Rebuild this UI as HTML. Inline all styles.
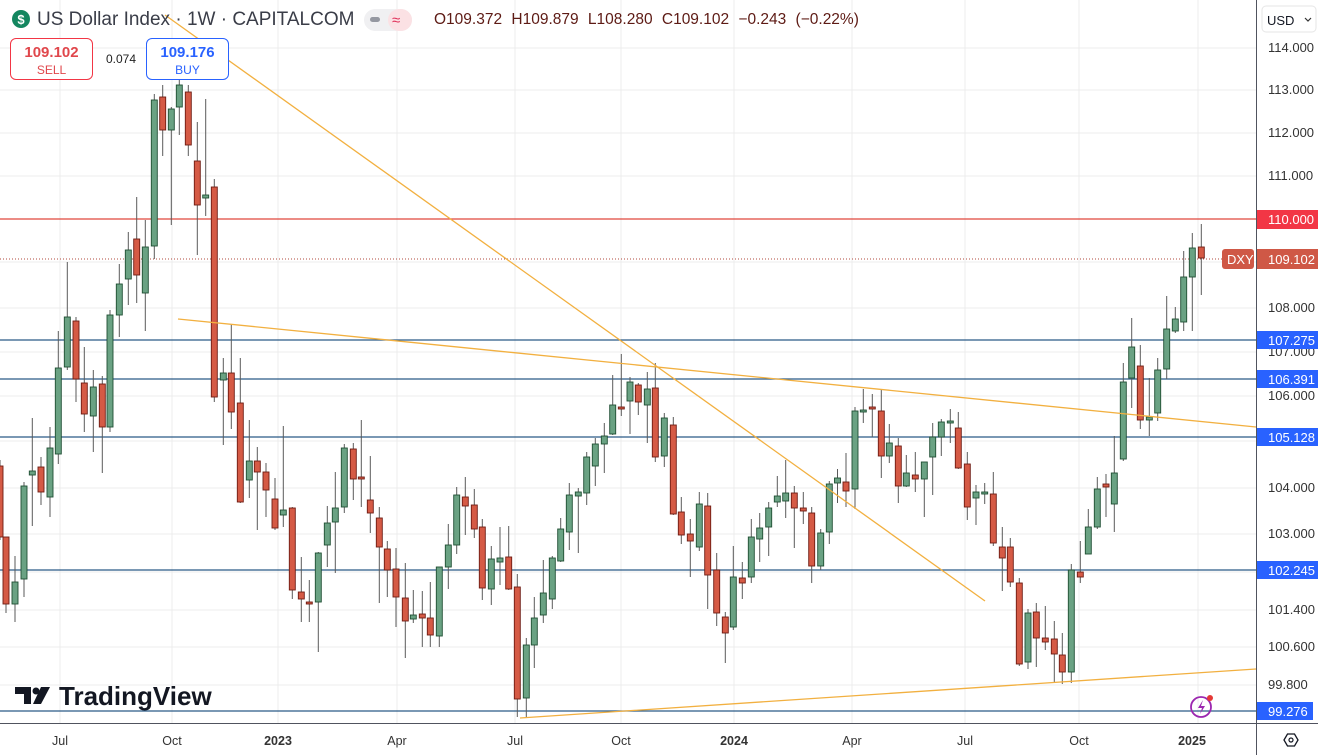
<!DOCTYPE html>
<html><head><meta charset="utf-8">
<style>
html,body{margin:0;padding:0;background:#fff;}
body{width:1318px;height:755px;overflow:hidden;position:relative;font-family:"Liberation Sans",sans-serif;}
svg{position:absolute;left:0;top:0;}
.box{position:absolute;top:38px;width:83px;height:42px;border-radius:6px;background:#fff;text-align:center;box-sizing:border-box;}
</style></head><body>
<svg id="c" width="1318" height="755" xmlns="http://www.w3.org/2000/svg" font-family="Liberation Sans, sans-serif">
<g stroke="#ececec" stroke-width="1">
<line x1="60" y1="0" x2="60" y2="723"/><line x1="172" y1="0" x2="172" y2="723"/><line x1="278" y1="0" x2="278" y2="723"/><line x1="397" y1="0" x2="397" y2="723"/><line x1="515" y1="0" x2="515" y2="723"/><line x1="621" y1="0" x2="621" y2="723"/><line x1="734" y1="0" x2="734" y2="723"/><line x1="852" y1="0" x2="852" y2="723"/><line x1="965" y1="0" x2="965" y2="723"/><line x1="1079" y1="0" x2="1079" y2="723"/><line x1="1198" y1="0" x2="1198" y2="723"/>
<line x1="0" y1="48" x2="1256" y2="48"/><line x1="0" y1="90" x2="1256" y2="90"/><line x1="0" y1="133" x2="1256" y2="133"/><line x1="0" y1="176" x2="1256" y2="176"/><line x1="0" y1="262" x2="1256" y2="262"/><line x1="0" y1="308" x2="1256" y2="308"/><line x1="0" y1="352" x2="1256" y2="352"/><line x1="0" y1="396" x2="1256" y2="396"/><line x1="0" y1="441" x2="1256" y2="441"/><line x1="0" y1="488" x2="1256" y2="488"/><line x1="0" y1="534" x2="1256" y2="534"/><line x1="0" y1="572" x2="1256" y2="572"/><line x1="0" y1="610" x2="1256" y2="610"/><line x1="0" y1="647" x2="1256" y2="647"/><line x1="0" y1="685" x2="1256" y2="685"/>
</g>
<g stroke="#2a5a86" stroke-width="1.2">
<line x1="0" y1="340" x2="1256" y2="340"/><line x1="0" y1="379" x2="1256" y2="379"/><line x1="0" y1="437" x2="1256" y2="437"/><line x1="0" y1="570" x2="1256" y2="570"/><line x1="0" y1="711" x2="1256" y2="711"/>
</g>
<line x1="0" y1="219" x2="1256" y2="219" stroke="#e0473c" stroke-width="1.2"/>
<line x1="0" y1="259" x2="1222" y2="259" stroke="#b04a3e" stroke-width="1" stroke-dasharray="1,2"/>
<g id="candles"></g>
<g stroke="#f2b040" stroke-width="1.3" fill="none">
<line x1="165" y1="15" x2="985" y2="601"/>
<line x1="178" y1="319" x2="1256" y2="427"/>
<line x1="520" y1="718" x2="1256" y2="669"/>
</g>
<rect x="1256" y="0" width="62" height="755" fill="#fff"/>
<line x1="1256.5" y1="0" x2="1256.5" y2="755" stroke="#50535e" stroke-width="1"/>
<rect x="0" y="723" width="1256" height="32" fill="#fff"/>
<line x1="0" y1="723.5" x2="1318" y2="723.5" stroke="#50535e" stroke-width="1"/>
<g font-size="13" fill="#333" >
<text x="1268" y="52">114.000</text><text x="1268" y="94">113.000</text><text x="1268" y="137">112.000</text><text x="1268" y="180">111.000</text><text x="1268" y="312">108.000</text><text x="1268" y="356">107.000</text><text x="1268" y="400">106.000</text><text x="1268" y="492">104.000</text><text x="1268" y="538">103.000</text><text x="1268" y="614">101.400</text><text x="1268" y="651">100.600</text><text x="1268" y="689">99.800</text>
</g>
<rect x="1257" y="210" width="61" height="19" fill="#f23645"/>
<rect x="1257" y="249" width="61" height="20" fill="#cf5846"/>
<rect x="1222" y="249" width="32" height="20" rx="3" fill="#cf5846"/>
<g fill="#2962ff"><rect x="1257" y="331" width="61" height="18"/><rect x="1257" y="370" width="61" height="18"/><rect x="1257" y="428" width="61" height="18"/><rect x="1257" y="561" width="61" height="18"/><rect x="1257" y="702" width="56" height="18"/></g>
<g font-size="13" fill="#fff">
<text x="1268" y="224">110.000</text><text x="1268" y="264">109.102</text><text x="1227" y="264">DXY</text>
<text x="1268" y="345">107.275</text><text x="1268" y="384">106.391</text><text x="1268" y="442">105.128</text><text x="1268" y="575">102.245</text><text x="1268" y="716">99.276</text>
</g>
<rect x="1262" y="6" width="54" height="26" rx="4" fill="#fff" stroke="#e6e6e6"/>
<text x="1267" y="25" font-size="13" fill="#131722">USD</text>
<path d="M1305 18 l3 3 l3 -3" stroke="#333" fill="none" stroke-width="1.2"/>
<g font-size="12.5" fill="#333" font-weight="bold" text-anchor="middle">
<text x="60" y="745" font-weight="normal">Jul</text><text x="172" y="745" font-weight="normal">Oct</text><text x="278" y="745">2023</text><text x="397" y="745" font-weight="normal">Apr</text><text x="515" y="745" font-weight="normal">Jul</text><text x="621" y="745" font-weight="normal">Oct</text><text x="734" y="745">2024</text><text x="852" y="745" font-weight="normal">Apr</text><text x="965" y="745" font-weight="normal">Jul</text><text x="1079" y="745" font-weight="normal">Oct</text><text x="1192" y="745">2025</text>
</g>
<path d="M1284 740 l3.5 -6 h7 l3.5 6 l-3.5 6 h-7z" fill="none" stroke="#131722" stroke-width="1.3"/>
<circle cx="1291" cy="740" r="2" fill="none" stroke="#131722" stroke-width="1.2"/>
<circle cx="21" cy="19" r="9" fill="#13865f"/>
<text x="21" y="24" font-size="13" font-weight="bold" fill="#fff" text-anchor="middle">$</text>
<text x="37" y="25" font-size="19" fill="#3a3d48">US Dollar Index · 1W · CAPITALCOM</text>
<rect x="364" y="9" width="48" height="22" rx="11" fill="#f0f0f2"/>
<rect x="370" y="17" width="10" height="5" rx="2.5" fill="#9598a1"/>
<rect x="388" y="9" width="24" height="22" rx="11" fill="#fbe1e4"/>
<text x="392" y="25" font-size="15" fill="#e0315a">≈</text>
<text x="434" y="24" font-size="15.5" fill="#5d1a14" word-spacing="5">O109.372 H109.879 L108.280 C109.102 −0.243 (−0.22%)</text>
<g fill="#131722">
<path d="M15 687 h16 v17 h-7 v-10 h-9z"/>
<circle cx="36" cy="691" r="3.5"/>
<path d="M41 687 h9 l-9 17 h-8z"/>
</g>
<text x="59" y="705" font-size="26" font-weight="bold" fill="#131722">TradingView</text>
<circle cx="1201" cy="707" r="10" fill="none" stroke="#9c27b0" stroke-width="1.8"/>
<path d="M1203 700 l-5 8 h4 l-2 6 l5 -8 h-4z" fill="#9c27b0"/>
<circle cx="1210" cy="698" r="3" fill="#e53935"/>
</svg>
<div class="box" style="left:10px;border:1px solid #f23645;color:#e0474c;">
<div style="font-size:15px;font-weight:bold;margin-top:5px;">109.102</div><div style="font-size:12px;margin-top:2px;">SELL</div></div>
<div style="position:absolute;left:106px;top:52px;font-size:12px;color:#222;">0.074</div>
<div class="box" style="left:146px;border:1px solid #2962ff;color:#2962ff;">
<div style="font-size:15px;font-weight:bold;margin-top:5px;">109.176</div><div style="font-size:12px;margin-top:2px;">BUY</div></div>
<script>
var d=[[0,'r',466,537,460,540],[6,'r',537,604,537,613],[15,'g',582,604,556,622],[24,'g',486,579,482,597],[32.3,'g',471,475,418,526],[41,'r',467,492,457,505],[50,'g',448,497,427,517],[58.3,'g',368,454,331,464],[67.3,'g',317,367,262,370],[76,'r',321,379,317,402],[84.3,'r',383,414,347,432],[93.3,'g',387,416,370,452],[102.3,'r',384,427,376,473],[110,'g',315,427,310,432],[119.3,'g',284,315,264,337],[128.3,'g',250,279,232,305],[136.7,'r',239,275,197,303],[145.3,'g',247,293,220,331],[154.3,'g',100,246,94,259],[162.7,'r',97,130,85,156],[171.3,'g',109,130,107,225],[179.3,'g',85,107,69,135],[188.3,'r',92,145,85,156],[197.3,'r',161,205,122,255],[205.7,'g',195,198,99,216],[214.3,'r',187,397,179,402],[223.3,'g',373,380,358,445],[231.3,'r',373,412,324,429],[240.3,'r',403,502,358,503],[249.3,'g',461,480,420,498],[257.3,'r',461,472,447,530],[266,'r',472,490,463,517],[275,'r',499,528,478,530],[283.3,'g',510,515,426,527],[292.3,'r',508,590,507,599],[301.3,'r',592,599,557,622],[309.3,'r',602,604,580,622],[318.3,'g',553,602,552,652],[327.3,'g',523,545,506,567],[335.3,'g',508,522,472,573],[344.3,'g',448,507,444,513],[353.3,'r',449,479,443,500],[361.3,'r',477,479,420,507],[370.3,'r',500,513,456,533],[379.3,'r',518,547,507,603],[387.3,'r',549,570,541,597],[396,'r',569,597,548,627],[405.3,'r',598,621,563,658],[413.3,'g',615,619,590,623],[422.3,'r',614,618,591,647],[430.3,'r',618,635,582,647],[439.3,'g',567,636,567,647],[448.3,'g',545,567,524,589],[456.7,'g',495,545,487,554],[465.3,'r',497,506,477,535],[474.3,'r',505,529,489,538],[482.3,'r',527,588,519,600],[491.3,'g',559,589,546,605],[500,'g',558,562,527,585],[508.7,'r',557,589,526,590],[517.3,'r',587,699,574,717],[526.3,'g',645,698,638,718],[534.3,'g',618,645,597,668],[543.3,'g',593,615,560,623],[552.3,'g',558,599,556,609],[560.7,'g',529,561,518,562],[569.3,'g',495,532,483,550],[578.3,'g',492,496,488,553],[586.7,'g',457,493,452,505],[595.3,'g',444,466,438,486],[604.3,'g',436,444,423,473],[612.7,'g',405,434,375,435],[621.3,'r',407,409,354,416],[630,'g',382,401,377,434],[638.3,'r',385,402,383,415],[647.3,'g',389,405,372,443],[655.3,'r',388,457,363,462],[664.3,'g',418,456,413,467],[673.3,'r',425,514,417,515],[681.3,'r',512,535,497,544],[690.3,'r',534,541,519,577],[699.3,'g',504,547,492,551],[707.7,'r',506,575,493,609],[716.7,'r',570,613,553,626],[725.3,'r',617,633,612,663],[733.3,'g',577,627,546,630],[742.3,'r',578,583,562,599],[751.3,'g',537,577,519,583],[759.7,'g',528,539,513,562],[768.7,'g',508,527,502,556],[777.3,'g',496,502,476,507],[785.7,'g',493,501,460,518],[794.3,'r',493,508,486,548],[803.3,'r',508,511,492,524],[811.7,'r',513,566,507,583],[820.7,'g',533,566,529,570],[829.3,'g',484,532,481,544],[837.5,'g',478,483,469,503],[846,'r',482,491,453,507],[855,'g',411,489,407,509],[863.3,'g',410,412,389,423],[872.3,'r',407,409,394,437],[881.3,'r',411,456,389,478],[889.3,'g',443,456,424,463],[898.3,'r',446,486,438,503],[906.3,'g',473,486,455,487],[915.3,'r',475,479,452,492],[924.3,'g',462,479,462,517],[932.7,'g',437,457,423,495],[941.3,'g',422,437,419,456],[950.3,'g',421,423,409,443],[958.3,'r',428,468,412,469],[967.3,'r',464,507,452,520],[976,'g',492,498,485,525],[984.7,'g',492,494,483,504],[993.3,'r',494,543,472,546],[1002.3,'r',547,558,527,591],[1010.3,'r',547,582,538,587],[1019.3,'r',583,664,578,666],[1028,'g',613,662,609,669],[1036.3,'r',612,638,603,667],[1045.3,'r',638,642,606,650],[1054.3,'r',639,654,621,683],[1062.3,'r',655,672,633,684],[1071.3,'g',570,672,564,683],[1080.3,'r',572,577,541,583],[1088.3,'g',527,554,509,554],[1097.3,'g',489,527,477,529],[1106,'r',484,487,474,517],[1114.3,'g',473,504,436,532],[1123.3,'g',382,459,363,461],[1131.7,'g',347,378,318,408],[1140.3,'r',366,420,345,429],[1149.3,'g',417,420,378,436],[1157.7,'g',370,413,358,421],[1166.7,'g',329,369,296,379],[1175.3,'g',319,331,307,333],[1183.7,'g',277,322,251,331],[1192.3,'g',248,277,233,331],[1201.3,'r',247,258,224,295]];
var s='';
d.forEach(function(c){var x=c[0],g=c[1]=='g';var fill=g?'#6aa283':'#d55a45',st=g?'#1f4f33':'#6e1b12';
s+='<line x1="'+x+'" y1="'+c[4]+'" x2="'+x+'" y2="'+c[5]+'" stroke="#5a5a5a" stroke-width="1"/>';
var h=Math.max(c[3]-c[2],2);
s+='<rect x="'+(x-3)+'" y="'+c[2]+'" width="6" height="'+h+'" fill="'+fill+'" stroke="'+st+'" stroke-width="0.9"/>';});
document.getElementById('candles').innerHTML=s;
</script>
</body></html>
